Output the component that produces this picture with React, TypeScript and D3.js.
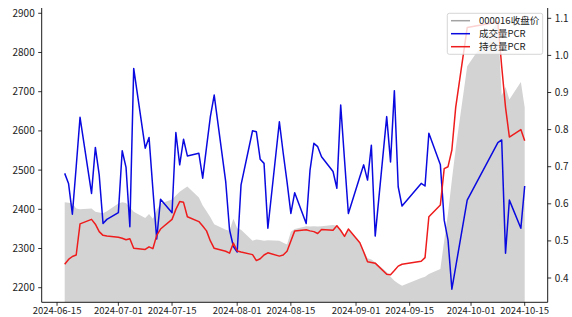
import React from "react";
import { scaleTime, scaleLinear, line, area, timeParse, timeFormat } from "d3";

// trading days, 000016 close and the two PCR series
const dates = [
  "2024-06-17", "2024-06-18", "2024-06-19", "2024-06-20", "2024-06-21",
  "2024-06-24", "2024-06-25", "2024-06-26", "2024-06-27", "2024-06-28",
  "2024-07-01", "2024-07-02", "2024-07-03", "2024-07-04", "2024-07-05",
  "2024-07-08", "2024-07-09", "2024-07-10", "2024-07-11", "2024-07-12",
  "2024-07-15", "2024-07-16", "2024-07-17", "2024-07-18", "2024-07-19",
  "2024-07-22", "2024-07-23", "2024-07-24", "2024-07-25", "2024-07-26",
  "2024-07-29", "2024-07-30", "2024-07-31", "2024-08-01", "2024-08-02",
  "2024-08-05", "2024-08-06", "2024-08-07", "2024-08-08", "2024-08-09",
  "2024-08-12", "2024-08-13", "2024-08-14", "2024-08-15", "2024-08-16",
  "2024-08-19", "2024-08-20", "2024-08-21", "2024-08-22", "2024-08-23",
  "2024-08-26", "2024-08-27", "2024-08-28", "2024-08-29", "2024-08-30",
  "2024-09-02", "2024-09-03", "2024-09-04", "2024-09-05", "2024-09-06",
  "2024-09-09", "2024-09-10", "2024-09-11", "2024-09-12", "2024-09-13",
  "2024-09-18", "2024-09-19", "2024-09-20",
  "2024-09-23", "2024-09-24", "2024-09-25", "2024-09-26", "2024-09-27",
  "2024-09-30",
  "2024-10-08", "2024-10-09", "2024-10-10", "2024-10-11",
  "2024-10-14", "2024-10-15"
];

const close = [
  2418, 2417, 2415, 2402, 2400,
  2402, 2394, 2392, 2390, 2395,
  2415, 2418, 2416, 2405, 2394,
  2378, 2388, 2376, 2398, 2415,
  2425, 2435, 2445, 2452, 2458,
  2430, 2410, 2395, 2380, 2362,
  2348, 2345, 2376, 2352, 2348,
  2320, 2323, 2322, 2320, 2321,
  2320, 2315, 2310, 2343, 2350,
  2357, 2356, 2357, 2356, 2357,
  2360, 2358, 2350, 2328, 2347,
  2315, 2295, 2275, 2272, 2265,
  2240, 2228, 2218, 2211, 2205,
  2225, 2228, 2235,
  2248, 2320, 2390, 2475, 2555,
  2765,
  2879, 2690, 2712, 2680,
  2725, 2660
];

const volumePcr = [
  0.682, 0.655, 0.572, 0.70, 0.833,
  0.628, 0.752, 0.678, 0.547, 0.558,
  0.576, 0.743, 0.698, 0.538, 0.965,
  0.75, 0.779, 0.64, 0.505, 0.612,
  0.576, 0.792, 0.705, 0.774, 0.729,
  0.736, 0.669, 0.753, 0.835, 0.893,
  0.66, 0.53, 0.485, 0.47, 0.651,
  0.797, 0.794, 0.72, 0.709, 0.534,
  0.821, 0.737, 0.659, 0.574, 0.63,
  0.547, 0.691, 0.763, 0.754, 0.727,
  0.687, 0.642, 0.866, 0.718, 0.574,
  0.673, 0.705, 0.664, 0.758, 0.513,
  0.835, 0.713, 0.905, 0.646, 0.594,
  0.655, 0.648, 0.79,
  0.705, 0.556, 0.502, 0.37, 0.43,
  0.61,
  0.765, 0.772, 0.467, 0.61,
  0.534, 0.648
];

const oiPcr = [
  0.437, 0.45, 0.458, 0.462, 0.546,
  0.558, 0.545, 0.525, 0.515, 0.513,
  0.51, 0.507, 0.503, 0.506, 0.48,
  0.477, 0.484, 0.479, 0.515, 0.532,
  0.558, 0.585, 0.606, 0.604, 0.565,
  0.552, 0.54, 0.527, 0.5, 0.48,
  0.472, 0.467, 0.494, 0.473, 0.47,
  0.463, 0.447, 0.452, 0.462, 0.468,
  0.459, 0.462, 0.472, 0.5, 0.527,
  0.53, 0.527, 0.525, 0.52, 0.531,
  0.529, 0.541, 0.528, 0.512, 0.532,
  0.495, 0.47, 0.444, 0.442, 0.44,
  0.41, 0.409, 0.42, 0.432, 0.437,
  0.445, 0.455, 0.565,
  0.597, 0.695, 0.7, 0.745, 0.86,
  1.075,
  1.09, 0.97, 0.86, 0.78,
  0.8, 0.77
];

const leftTicks = [2200, 2300, 2400, 2500, 2600, 2700, 2800, 2900];
const rightTicks = [0.4, 0.5, 0.6, 0.7, 0.8, 0.9, 1.0, 1.1];
const dateTicks = [
  "2024-06-15", "2024-07-01", "2024-07-15", "2024-08-01", "2024-08-15",
  "2024-09-01", "2024-09-15", "2024-10-01", "2024-10-15"
];
const legendLabels = ["000016收盘价", "成交量PCR", "持仓量PCR"];

const font = "'Noto Sans CJK SC', 'Noto Sans', sans-serif";

export default function App() {
  const width = 572,
    height = 317;
  const left = 41.7,
    right = 547.7,
    top = 8,
    bottom = 302.3;

  const parse = timeParse("%Y-%m-%d");
  const fmt = timeFormat("%Y-%m-%d");
  const days = dates.map(d => parse(d) as Date);

  const x = scaleTime()
    .domain([new Date(2024, 5, 11), new Date(2024, 9, 21)])
    .range([left, right]);
  const yLeft = scaleLinear().domain([2162.8, 2913.5]).range([bottom, top]);
  const yRight = scaleLinear().domain([0.3345, 1.1278]).range([bottom, top]);

  const closeArea = area<number>()
    .x((_, i) => x(days[i]))
    .y0(bottom)
    .y1(d => yLeft(d));
  const pcrLine = line<number>()
    .x((_, i) => x(days[i]))
    .y(d => yRight(d));

  const legendColors = ["#a3a3a3", "#0a0ae0", "#ee1c1c"];

  return (
    <div style={{ position: "fixed", left: 0, top: 0 }}>
      <svg width={width} height={height} style={{ display: "block", background: "#fff" }}>
        <defs>
          <clipPath id="plot">
            <rect x={left} y={top} width={right - left} height={bottom - top} />
          </clipPath>
        </defs>

        <g clipPath="url(#plot)">
          <path d={closeArea(close) || ""} fill="#d3d3d3" />
          <path d={pcrLine(volumePcr) || ""} fill="none" stroke="#0a0ae0" strokeWidth={1.5} strokeLinejoin="round" />
          <path d={pcrLine(oiPcr) || ""} fill="none" stroke="#ee1c1c" strokeWidth={1.5} strokeLinejoin="round" />
        </g>

        {/* spines */}
        <g stroke="#000" strokeWidth={0.9} fill="none">
          <line x1={left} x2={left} y1={top} y2={bottom} />
          <line x1={right} x2={right} y1={top} y2={bottom} />
          <line x1={left} x2={right} y1={bottom} y2={bottom} />
        </g>

        {/* left axis */}
        <g fontFamily={font} fontSize={10} fill="#222">
          {leftTicks.map(t => (
            <g key={t} transform={`translate(0,${yLeft(t)})`}>
              <line x1={left - 3.5} x2={left} stroke="#000" strokeWidth={0.8} />
              <text x={left - 7} dy="0.35em" textAnchor="end">
                {t}
              </text>
            </g>
          ))}
        </g>

        {/* right axis */}
        <g fontFamily={font} fontSize={10} fill="#222">
          {rightTicks.map(t => (
            <g key={t} transform={`translate(0,${yRight(t)})`}>
              <line x1={right} x2={right + 3.5} stroke="#000" strokeWidth={0.8} />
              <text x={right + 7} dy="0.35em" textAnchor="start">
                {t.toFixed(1)}
              </text>
            </g>
          ))}
        </g>

        {/* date axis */}
        <g fontFamily={font} fontSize={9.5} fill="#222">
          {dateTicks.map(t => {
            const px = x(parse(t) as Date);
            return (
              <g key={t} transform={`translate(${px},0)`}>
                <line y1={bottom} y2={bottom + 3.5} stroke="#000" strokeWidth={0.8} />
                <text y={314} textAnchor="middle">
                  {fmt(parse(t) as Date)}
                </text>
              </g>
            );
          })}
        </g>

        {/* legend */}
        <g fontFamily={font} fontSize={9.5} fill="#222">
          <rect x={447.3} y={13.3} width={95.4} height={41} rx={2} fill="#fff" fillOpacity={0.8} stroke="#cccccc" strokeWidth={0.8} />
          {legendLabels.map((label, i) => {
            const ly = 20.7 + i * 13;
            return (
              <g key={label}>
                <line x1={451} x2={470} y1={ly} y2={ly} stroke={legendColors[i]} strokeWidth={1.5} />
                <text x={479} y={ly} dy="0.35em">
                  {label}
                </text>
              </g>
            );
          })}
        </g>
      </svg>
    </div>
  );
}
